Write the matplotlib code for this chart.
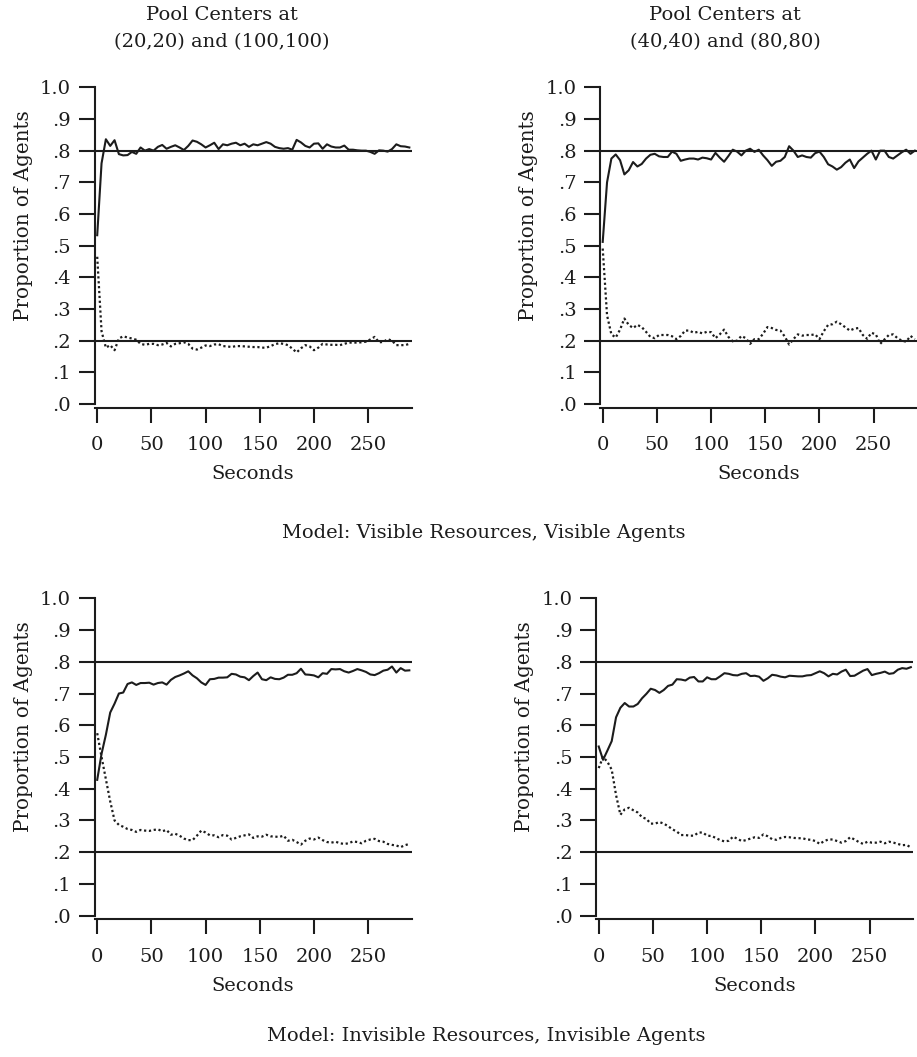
import numpy as np
import matplotlib
matplotlib.use('Agg')
import matplotlib.pyplot as plt

# sampling times (seconds)
seconds = np.arange(0, 292, 4)

# Visible resources / visible agents, pool centers (20,20) and (100,100)
vis_far_rich = [.533, .76, .836, .815, .833, .789, .785, .786, .796, .790,
                .81, .80, .805, .80, .812, .818, .806, .812, .817, .81,
                .802, .815, .832, .828, .82, .81, .817, .825, .805, .82,
                .817, .822, .825, .817, .822, .812, .82, .817, .822, .827,
                .822, .812, .808, .806, .808, .803, .834, .826, .815, .81,
                .822, .823, .806, .82, .813, .81, .81, .816, .803, .803,
                .801, .80, .80, .796, .79, .801, .80, .797, .805, .82,
                .814, .813, .81]
vis_far_poor = [.465, .23, .178, .186, .17, .207, .214, .21, .207, .203,
                .19, .187, .19, .19, .186, .188, .193, .182, .19, .192,
                .195, .19, .175, .172, .178, .185, .183, .188, .189, .183,
                .182, .18, .183, .183, .182, .181, .18, .18, .178, .178,
                .183, .189, .192, .19, .186, .175, .163, .176, .186, .182,
                .17, .178, .19, .188, .187, .187, .186, .19, .194, .194,
                .194, .195, .197, .204, .212, .195, .196, .205, .2, .186,
                .186, .186, .19]

# Visible resources / visible agents, pool centers (40,40) and (80,80)
vis_near_rich = [.512, .70, .775, .788, .77, .725, .738, .764, .75, .758,
                 .775, .787, .79, .782, .78, .78, .797, .79, .768, .772,
                 .775, .775, .772, .778, .776, .772, .793, .778, .765, .783,
                 .803, .797, .785, .80, .806, .796, .803, .785, .77, .752,
                 .765, .768, .78, .814, .80, .78, .785, .78, .778, .792,
                 .797, .78, .757, .75, .74, .748, .762, .772, .745, .766,
                 .778, .79, .80, .772, .80, .80, .78, .775, .785, .795,
                 .803, .79, .80]
vis_near_poor = [.491, .28, .22, .21, .235, .27, .25, .24, .25, .243,
                 .228, .212, .208, .218, .218, .218, .214, .205, .215, .232,
                 .232, .225, .228, .223, .228, .227, .208, .22, .235, .212,
                 .198, .20, .215, .208, .19, .205, .205, .222, .243, .24,
                 .234, .232, .213, .188, .205, .22, .216, .218, .218, .22,
                 .205, .23, .25, .252, .26, .252, .242, .232, .238, .24,
                 .218, .206, .225, .22, .19, .204, .218, .22, .208, .20,
                 .197, .215, .205]

# Invisible resources / invisible agents, pool centers (20,20) and (100,100)
inv_far_rich = [.428, .51, .57, .64, .668, .70, .703, .73, .735, .727,
                .733, .733, .734, .728, .733, .735, .728, .743, .752, .757,
                .763, .77, .757, .748, .735, .727, .745, .746, .75, .75,
                .751, .762, .76, .753, .751, .742, .755, .766, .745, .742,
                .751, .746, .745, .75, .759, .759, .764, .778, .76, .759,
                .757, .751, .764, .762, .777, .776, .777, .77, .766, .771,
                .777, .773, .768, .76, .758, .764, .772, .775, .785, .766,
                .78, .772, .773]
inv_far_poor = [.575, .50, .43, .36, .30, .286, .28, .273, .27, .264,
                .27, .268, .267, .27, .272, .266, .27, .255, .258, .252,
                .243, .238, .238, .252, .268, .262, .253, .253, .247, .254,
                .252, .24, .245, .25, .253, .256, .245, .25, .249, .255,
                .25, .249, .248, .252, .236, .239, .232, .224, .236, .243,
                .24, .246, .238, .232, .23, .233, .228, .226, .228, .234,
                .232, .228, .236, .24, .242, .235, .233, .226, .223, .221,
                .216, .222, .226]

# Invisible resources / invisible agents, pool centers (40,40) and (80,80)
inv_near_rich = [.533, .491, .52, .55, .625, .655, .67, .659, .659, .667,
                 .685, .699, .715, .711, .702, .711, .724, .728, .745, .744,
                 .741, .75, .752, .738, .738, .751, .745, .745, .754, .764,
                 .762, .758, .757, .762, .764, .755, .756, .753, .74, .748,
                 .759, .757, .753, .751, .756, .755, .754, .754, .757, .758,
                 .764, .77, .764, .754, .762, .76, .769, .775, .755, .756,
                 .764, .772, .777, .758, .762, .765, .769, .762, .764, .775,
                 .78, .778, .783]
inv_near_poor = [.465, .50, .485, .46, .38, .318, .335, .34, .332, .325,
                 .31, .305, .29, .29, .295, .29, .282, .272, .265, .254,
                 .254, .252, .252, .262, .262, .252, .251, .245, .238, .234,
                 .236, .249, .242, .235, .238, .243, .247, .245, .256, .25,
                 .241, .239, .245, .248, .247, .245, .244, .244, .24, .239,
                 .235, .226, .235, .24, .24, .235, .23, .235, .247, .24,
                 .232, .226, .233, .23, .23, .233, .228, .233, .23, .226,
                 .222, .223, .215]

targets = [0.8, 0.2]
x_ticks = [0, 50, 100, 150, 200, 250]
y_ticks = [0.0, 0.1, 0.2, 0.3, 0.4, 0.5, 0.6, 0.7, 0.8, 0.9, 1.0]
y_labels = ['.0', '.1', '.2', '.3', '.4', '.5', '.6', '.7', '.8', '.9', '1.0']

plt.rcParams['font.family'] = ['DejaVu Serif']
plt.rcParams['font.size'] = 14
INK = '#1c1c1c'
W, H = 917, 1057

fig = plt.figure(figsize=(W / 100, H / 100), dpi=100)
fig.patch.set_facecolor('white')

# axes rectangles in pixels: left, top (y=1.0), bottom (x spine)
panels = [
    (94.5, 87.3, 407.7, vis_far_rich, vis_far_poor),
    (600.0, 87.3, 407.7, vis_near_rich, vis_near_poor),
    (94.5, 598.3, 919.3, inv_far_rich, inv_far_poor),
    (596.0, 598.3, 919.3, inv_near_rich, inv_near_poor),
]

for left, top, bottom, rich, poor in panels:
    ax = fig.add_axes([left / W, 1 - bottom / H, 317 / W, (bottom - top) / H])
    ax.set_xlim(-2.5, 290)
    ax.set_ylim(-0.0115, 1.0)
    for t in targets:
        ax.axhline(t, color=INK, lw=1.5)
    ax.plot(seconds, rich, color=INK, lw=1.5, solid_joinstyle='round')
    ax.plot(seconds, poor, color=INK, lw=1.6, linestyle=(0, (1, 1.2)))

    for side in ['top', 'right']:
        ax.spines[side].set_visible(False)
    ax.spines['left'].set_bounds(0, 1.0)
    for side in ['left', 'bottom']:
        ax.spines[side].set_linewidth(1.5)
        ax.spines[side].set_color(INK)

    ax.set_xticks(x_ticks)
    ax.set_yticks(y_ticks)
    ax.set_yticklabels(y_labels)
    ax.tick_params(axis='y', length=11.5, width=1.5, pad=5.5, colors=INK, labelsize=14)
    ax.tick_params(axis='x', length=10.5, width=1.5, pad=10, colors=INK, labelsize=14)

    ax.set_xlabel('Seconds', fontsize=14, color=INK)
    ax.xaxis.set_label_coords(0.5, -0.18)
    ax.set_ylabel('Proportion of Agents', fontsize=14.3, color=INK)
    ax.yaxis.set_label_coords(-0.195, 0.6)

fig.text(222 / W, 1 - 15 / H, 'Pool Centers at', ha='center', va='center', color=INK, fontsize=14)
fig.text(222 / W, 1 - 42 / H, '(20,20) and (100,100)', ha='center', va='center', color=INK, fontsize=14)
fig.text(725 / W, 1 - 15 / H, 'Pool Centers at', ha='center', va='center', color=INK, fontsize=14)
fig.text(725 / W, 1 - 42 / H, '(40,40) and (80,80)', ha='center', va='center', color=INK, fontsize=14)

fig.text(484 / W, 1 - 533 / H, 'Model: Visible Resources, Visible Agents',
         ha='center', va='center', color=INK, fontsize=14)
fig.text(486 / W, 1 - 1036 / H, 'Model: Invisible Resources, Invisible Agents',
         ha='center', va='center', color=INK, fontsize=14)

fig.savefig('out.png', dpi=100, facecolor='white')
